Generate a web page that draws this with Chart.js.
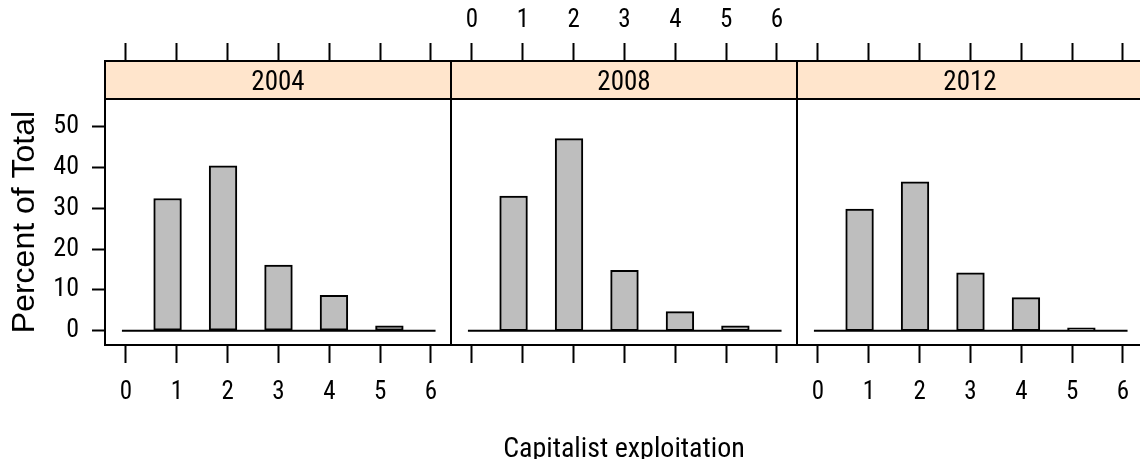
<!DOCTYPE html>
<html>
<head>
<meta charset="utf-8">
<script src="https://cdn.jsdelivr.net/npm/chart.js@4.4.1/dist/chart.umd.min.js"></script>
<style>
  html, body { margin: 0; padding: 0; background: #fff; overflow: hidden; width: 1140px; height: 459px; }
  .panel { position: absolute; left: 0; top: 0; }
</style>
</head>
<body>
<canvas id="p2004" class="panel" width="1160" height="470"></canvas>
<canvas id="p2008" class="panel" width="1160" height="470"></canvas>
<canvas id="p2012" class="panel" width="1160" height="470"></canvas>
<script>
// lattice histogram, one panel per year
var years = ['2004', '2008', '2012'];
var breaks = [0, 0.545, 1.091, 1.636, 2.182, 2.727, 3.273, 3.818, 4.364, 4.909, 5.455, 6];
var pct2004 = [0, 32.4, 0, 40.4, 0, 16.1, 0, 8.7, 0, 1.2, 0];
var pct2008 = [0, 33.0, 0, 47.1, 0, 14.8, 0, 4.7, 0, 1.2, 0];
var pct2012 = [0, 29.8, 0, 36.5, 0, 14.2, 0, 8.1, 0, 0.7, 0];
var xTicks = [0, 1, 2, 3, 4, 5, 6];
var yTicks = [0, 10, 20, 30, 40, 50];
var baseRange = [-0.08, 6.09];
var xRange = [-0.413, 6.394];
var yRange = [-3.5, 56.8];

var percents = [pct2004, pct2008, pct2012];

var CANVAS_W = 1160, CANVAS_H = 470;
var PANEL_LEFT = [105, 451, 797];
var PANEL_W = 346;
var PANEL_TOP = 99, PANEL_BOTTOM = 345;
var STRIP_H = 38;

var narrow = "'Roboto Condensed', 'Liberation Sans Narrow', 'DejaVu Sans Condensed', sans-serif";

var stripPlugin = {
    id: 'strip',
    afterDraw: function (chart, args, opts) {
        var a = chart.chartArea, c = chart.ctx;
        var top = a.top - STRIP_H;
        c.save();
        c.fillStyle = '#ffe5cc';
        c.fillRect(a.left, top, a.right - a.left, STRIP_H);
        c.lineWidth = 2;
        c.strokeStyle = '#000';
        c.strokeRect(a.left, top, a.right - a.left, STRIP_H);
        c.strokeRect(a.left, a.top, a.right - a.left, a.bottom - a.top);
        c.fillStyle = '#000';
        c.font = '27px ' + narrow;
        c.textAlign = 'center';
        c.textBaseline = 'middle';
        c.fillText(opts.label, (a.left + a.right) / 2, top + 22);
        c.restore();
    }
};

function setTicks(list) {
    return function (s) {
        s.ticks = list.map(function (v) { return {value: v}; });
    };
}

function makePanel(i) {
    var left = PANEL_LEFT[i];
    var centers = breaks.slice(0, -1).map(function (b, k) { return (b + breaks[k + 1]) / 2; });
    var ctx = document.getElementById('p' + years[i]).getContext('2d');

    return new Chart(ctx, {
        type: 'bar',
        data: {
            datasets: [{
                data: centers.map(function (c, k) { return {x: c, y: percents[i][k]}; }),
                xAxisID: 'x',
                yAxisID: 'y',
                backgroundColor: '#bebebe',
                borderColor: '#000',
                borderWidth: 2,
                borderSkipped: false,
                barPercentage: 1,
                categoryPercentage: 1
            }, {
                type: 'line',
                data: [{x: baseRange[0], y: 0}, {x: baseRange[1], y: 0}],
                xAxisID: 'x',
                yAxisID: 'y',
                borderColor: '#000',
                borderWidth: 2,
                pointRadius: 0,
                fill: false
            }]
        },
        options: {
            responsive: false,
            animation: false,
            devicePixelRatio: 1,
            events: [],
            layout: {
                padding: {left: i === 0 ? 0 : left, right: CANVAS_W - left - PANEL_W, top: 0, bottom: 0}
            },
            plugins: {
                legend: {display: false},
                tooltip: {enabled: false},
                strip: {label: years[i]}
            },
            scales: {
                x: {
                    type: 'linear',
                    position: 'bottom',
                    min: xRange[0],
                    max: xRange[1],
                    offset: false,
                    afterBuildTicks: setTicks(xTicks),
                    afterFit: function (s) { s.height = CANVAS_H - PANEL_BOTTOM; },
                    grid: {offset: false, drawOnChartArea: false, tickLength: 18, tickWidth: 2, tickColor: '#000'},
                    border: {display: false},
                    ticks: {display: i !== 1, padding: 15, color: '#000', maxRotation: 0, autoSkip: false,
                        font: {family: narrow, size: 25}},
                    title: {display: i === 1, text: 'Capitalist exploitation', color: '#000',
                        font: {family: narrow, size: 28, lineHeight: 1}, padding: {top: 0, bottom: 6}}
                },
                xTop: {
                    type: 'linear',
                    position: 'top',
                    min: xRange[0],
                    max: xRange[1],
                    offset: false,
                    afterBuildTicks: setTicks(xTicks),
                    afterFit: function (s) { s.height = PANEL_TOP; },
                    grid: {offset: false, drawOnChartArea: false, tickLength: 56, tickWidth: 2, tickColor: '#000'},
                    border: {display: false},
                    ticks: {display: i === 1, padding: 7, color: '#000', maxRotation: 0, autoSkip: false,
                        font: {family: narrow, size: 25}}
                },
                y: {
                    type: 'linear',
                    position: 'left',
                    display: i === 0,
                    min: yRange[0],
                    max: yRange[1],
                    afterBuildTicks: setTicks(yTicks),
                    afterFit: function (s) { s.width = i === 0 ? PANEL_LEFT[0] : 0; },
                    grid: {drawOnChartArea: false, tickLength: 13, tickWidth: 2, tickColor: '#000'},
                    border: {display: false},
                    ticks: {padding: 13, color: '#000', font: {family: narrow, size: 26}},
                    title: {display: true, text: 'Percent of Total', color: '#000',
                        font: {family: "'Liberation Sans', Arial, sans-serif", size: 32, lineHeight: 1},
                        padding: {top: 9, bottom: 0}}
                }
            }
        },
        plugins: [stripPlugin]
    });
}

function draw() {
    window.panels = years.map(function (y, i) { return makePanel(i); });
}

if (document.fonts && document.fonts.load) {
    Promise.all([
        document.fonts.load("22px 'Roboto Condensed'"),
        document.fonts.load("31px 'Liberation Sans'")
    ]).then(draw, draw);
} else {
    draw();
}
</script>
</body>
</html>
